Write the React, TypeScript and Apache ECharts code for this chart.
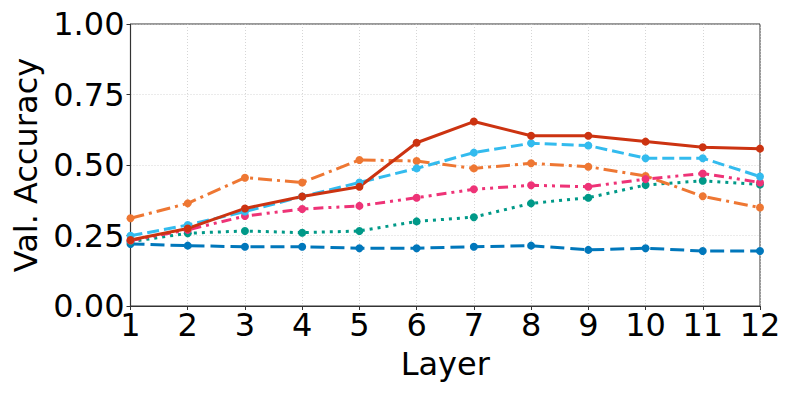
import React, { useEffect, useRef } from "react";
import * as echarts from "echarts";

const layers = [1, 2, 3, 4, 5, 6, 7, 8, 9, 10, 11, 12];
const redVals = [0.234, 0.275, 0.346, 0.388, 0.423, 0.579, 0.654, 0.604, 0.604, 0.583, 0.563, 0.558];
const skyVals = [0.249, 0.287, 0.335, 0.388, 0.438, 0.488, 0.544, 0.577, 0.569, 0.524, 0.524, 0.459];
const orangeVals = [0.311, 0.364, 0.455, 0.438, 0.518, 0.514, 0.488, 0.506, 0.494, 0.461, 0.389, 0.349];
const pinkVals = [0.232, 0.27, 0.319, 0.344, 0.355, 0.384, 0.414, 0.428, 0.423, 0.45, 0.47, 0.438];
const tealVals = [0.228, 0.258, 0.266, 0.26, 0.266, 0.3, 0.315, 0.364, 0.384, 0.429, 0.444, 0.431];
const blueVals = [0.22, 0.214, 0.21, 0.21, 0.205, 0.205, 0.21, 0.214, 0.199, 0.205, 0.195, 0.195];

const yTicks = [0, 0.25, 0.5, 0.75, 1.0];

const seriesDefs = [
  { name: "blue", vals: blueVals, color: "#0077bb", dash: [14, 6] as any },
  { name: "teal", vals: tealVals, color: "#009988", dash: [3, 5] as any },
  { name: "orange", vals: orangeVals, color: "#ee7733", dash: [14, 5, 3, 5] as any },
  { name: "pink", vals: pinkVals, color: "#ee3377", dash: [10, 5, 3, 5, 3, 5] as any },
  { name: "sky", vals: skyVals, color: "#33bbee", dash: [12, 5] as any },
  { name: "red", vals: redVals, color: "#cc3311", dash: "solid" as any },
];

export default function App() {
  const ref = useRef<HTMLDivElement>(null);
  useEffect(() => {
    if (!ref.current) return;
    const chart = echarts.init(ref.current, undefined, { renderer: "svg" });
    const font = "DejaVu Sans";
    chart.setOption({
      animation: false,
      grid: {
        left: 130.5,
        right: 33,
        top: 24,
        bottom: 91,
        show: true,
        borderColor: "#333",
        borderWidth: 1,
      },
      xAxis: {
        type: "value",
        min: 1,
        max: 12,
        interval: 1,
        name: "Layer",
        nameLocation: "middle",
        nameGap: 42,
        nameTextStyle: { fontFamily: font, fontSize: 32, color: "#000" },
        axisLine: { show: true, lineStyle: { color: "#333", width: 1.2 } },
        axisTick: { show: true, length: 4, lineStyle: { color: "#333" } },
        axisLabel: { fontFamily: font, fontSize: 32, color: "#000", margin: 3 },
        splitLine: { show: true, lineStyle: { color: "#ccc", type: [1, 2], width: 0.8 } },
      },
      yAxis: {
        type: "value",
        min: 0,
        max: 1,
        interval: 0.25,
        name: "Val. Accuracy",
        nameLocation: "middle",
        nameGap: 88,
        nameTextStyle: { fontFamily: font, fontSize: 32, color: "#000" },
        axisLine: { show: true, lineStyle: { color: "#333", width: 1.2 } },
        axisTick: { show: true, length: 4, lineStyle: { color: "#333" } },
        axisLabel: {
          fontFamily: font,
          fontSize: 32,
          color: "#000",
          margin: 6,
          formatter: (v: number) => (yTicks.includes(v) ? v.toFixed(2) : ""),
        },
        splitLine: { show: true, lineStyle: { color: "#ccc", type: [1, 2], width: 0.8 } },
      },
      series: seriesDefs.map((s) => ({
        name: s.name,
        type: "line",
        data: layers.map((l, i) => [l, s.vals[i]]),
        symbol: "circle",
        symbolSize: 8,
        showSymbol: true,
        clip: false,
        itemStyle: { color: s.color },
        lineStyle: { color: s.color, width: 3, type: s.dash },
      })),
    });
    return () => chart.dispose();
  }, []);
  return <div ref={ref} style={{ width: 793, height: 397, position: "absolute", left: 0, top: 0 }} />;
}
